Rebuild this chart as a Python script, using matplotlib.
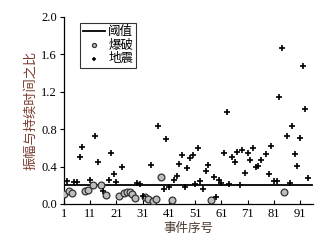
import numpy as np
import matplotlib
matplotlib.use('Agg')
import matplotlib.pyplot as plt

plt.rcParams['font.family'] = ['Liberation Serif', 'Noto Sans CJK SC', 'DejaVu Sans']

# 阈值
threshold = 0.2
# 爆破事件 (序号, 比值)
blast_idx = np.array([1, 3, 4, 9, 10, 12, 15, 17, 22, 24, 25, 26, 27, 28, 32, 33, 35, 36, 38, 42, 57, 85])
blast_val = np.array([0.11, 0.135, 0.12, 0.135, 0.15, 0.20, 0.20, 0.10, 0.08, 0.12, 0.13, 0.13, 0.11, 0.06,
                      0.07, 0.05, 0.03, 0.05, 0.29, 0.04, 0.04, 0.13])
# 地震事件 (序号, 比值)
quake_idx = np.array([2, 5, 6, 7, 8, 11, 13, 14, 16, 18, 19, 20, 21, 23, 29, 30, 31, 34, 37, 39, 40, 41,
                      43, 44, 45, 46, 47, 48, 49, 50, 51, 52, 53, 54, 55, 56, 58, 59, 60, 61,
                      62, 63, 64, 65, 66, 67, 68, 69, 70, 71, 72, 73, 74, 75, 76,
                      78, 79, 80, 81, 82, 83, 84, 86, 87, 88, 89, 90, 91, 92, 93, 94])
quake_val = np.array([0.24, 0.23, 0.23, 0.50, 0.61, 0.26, 0.73, 0.45, 0.14, 0.26, 0.54, 0.32, 0.23, 0.40,
                      0.22, 0.21, 0.09, 0.42, 0.83, 0.16, 0.69, 0.18,
                      0.26, 0.30, 0.43, 0.52, 0.18, 0.38, 0.49, 0.52, 0.21, 0.60, 0.25, 0.16, 0.35, 0.42,
                      0.29, 0.07, 0.26, 0.22,
                      0.54, 0.98, 0.21, 0.50, 0.45, 0.56, 0.20, 0.58, 0.33, 0.54, 0.47, 0.60, 0.40, 0.41, 0.47,
                      0.53, 0.32, 0.62, 0.25, 0.25, 1.14, 1.67, 0.73, 0.22, 0.83, 0.53, 0.41, 0.71, 1.48, 1.02, 0.28])
xticks = [1, 11, 21, 31, 41, 51, 61, 71, 81, 91]
yticks = [0.0, 0.4, 0.8, 1.2, 1.6, 2.0]

fig = plt.figure(figsize=(3.28, 2.46), dpi=100)
ax = fig.add_axes([0.195, 0.171, 0.76, 0.76])

ax.plot([1, 95.5], [threshold, threshold], color='black', lw=1.3, label='阈值', zorder=2)
ax.scatter(blast_idx, blast_val, s=24, facecolor='#bdbdbd', edgecolor='#333333', linewidths=0.9,
           label='爆破', zorder=3)
ax.scatter(quake_idx, quake_val, s=16, marker='+', color='black', linewidths=1.2, label='地震', zorder=4)

ax.set_xlim(1, 96)
ax.set_ylim(0, 2.0)
ax.set_xticks(xticks)
ax.set_yticks(yticks)
ax.set_yticklabels([f'{v:.1f}' for v in yticks])
ax.spines['top'].set_visible(False)
ax.spines['right'].set_visible(False)
for s in ['left', 'bottom']:
    ax.spines[s].set_linewidth(0.9)
ax.tick_params(axis='x', direction='in', length=3, labelsize=9, pad=3)
ax.tick_params(axis='y', direction='out', length=3, labelsize=9, pad=2)

ax.set_xlabel('事件序号', fontsize=9, color='#4a3a30', labelpad=2)
ax.set_ylabel('振幅与持续时间之比', fontsize=9.5, color='#7a3b2e', labelpad=3)

leg = ax.legend(loc='upper left', bbox_to_anchor=(0.04, 1.0), fontsize=9, frameon=True, fancybox=False,
                edgecolor='black', handlelength=1.7, handletextpad=0.3, borderpad=0.25, labelspacing=0.1,
                markerscale=0.6)
leg.get_frame().set_linewidth(0.8)

fig.savefig('out.png', dpi=100)
